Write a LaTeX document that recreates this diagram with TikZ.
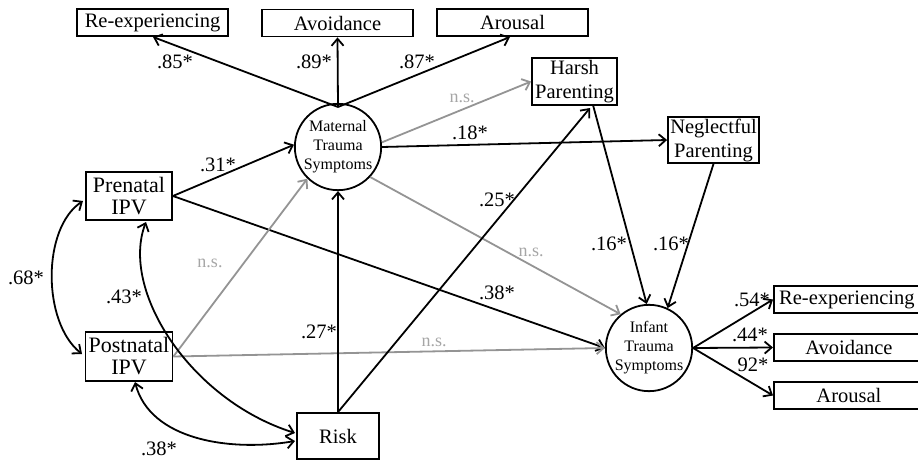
\documentclass[tikz,border=0pt]{standalone}
\usepackage{fontspec}
\setmainfont{Liberation Serif}
\usetikzlibrary{arrows.meta}
\begin{document}
\begin{tikzpicture}[x=1pt,y=-1pt,
  box/.style={draw,line width=1.8pt,inner sep=0pt,align=center,font=\fontsize{20.5}{22}\selectfont},
  circ/.style={draw,circle,line width=1.8pt,inner sep=0pt,minimum size=80pt,align=center,font=\fontsize{16}{19}\selectfont},
  arr/.style={line width=1.8pt,-{Straight Barb[length=7pt,width=12pt,line width=1.8pt]}},
  darr/.style={line width=1.8pt,{Straight Barb[length=7pt,width=12pt,line width=1.8pt]}-{Straight Barb[length=7pt,width=12pt,line width=1.8pt]}},
  garr/.style={arr,draw=black!42},
  lab/.style={font=\fontsize{20.5}{22}\selectfont,inner sep=0pt},
  glab/.style={font=\fontsize{18}{20}\selectfont,inner sep=0pt,text=black!35}]
\useasboundingbox (0,0) rectangle (918,460);
\begin{scope}
\clip (0,0) rectangle (918,460);
% top indicators
\node[box,minimum width=151pt,minimum height=27pt] (reT) at (152.5,22.5) {Re-experiencing};
\node[box,minimum width=151pt,minimum height=27pt] (avT) at (337.5,23) {Avoidance};
\node[box,minimum width=151pt,minimum height=27pt] (arT) at (512.5,22.5) {Arousal};
% parenting
\node[box,minimum width=85pt,minimum height=47pt,font=\fontsize{20.5}{24}\selectfont] (harsh) at (574.5,81.5) {Harsh\\Parenting};
\node[box,minimum width=91pt,minimum height=46pt,font=\fontsize{20.5}{24}\selectfont] (negl) at (713.5,140) {Neglectful\\Parenting};
% exogenous
\node[box,minimum width=86pt,minimum height=48pt,font=\fontsize{22}{22}\selectfont] (pre) at (129,196) {Prenatal\\IPV};
\node[box,minimum width=87pt,minimum height=49pt,font=\fontsize{22}{22}\selectfont] (post) at (129,356.5) {Postnatal\\IPV};
\node[box,minimum width=82pt,minimum height=46pt] (risk) at (338,436) {Risk};
% latent
\node[circ] (mat) at (338,147) {Maternal\\Trauma\\Symptoms};
\node[circ,minimum size=82pt] (inf) at (649,348) {Infant\\Trauma\\Symptoms};
% right indicators
\node[box,minimum width=150pt,minimum height=27pt,anchor=west] (reR) at (773,299.5) {\hspace*{-4pt}Re-experiencing};
\node[box,minimum width=150pt,minimum height=27pt,anchor=west] (avR) at (773,347.5) {Avoidance};
\node[box,minimum width=150pt,minimum height=27pt,anchor=west] (arR) at (773,395.5) {Arousal};
\end{scope}
% coordinates
\coordinate (mtop) at (338,107);
\coordinate (reTin) at (153,37);
\coordinate (arTin) at (510,37);
\coordinate (harshin) at (590,108);
\coordinate (harshout) at (593,105);
% maternal indicators
\draw[arr] (mtop) -- (reTin);
\draw[arr] (mtop) -- (avT.south);
\draw[arr] (mtop) -- (arTin);
% maternal to parenting
\draw[garr] (mat.6) -- (harsh.west);
\draw[arr] (mat.east) -- (negl.west);
% maternal to infant
\draw[garr] (mat.-43) -- (inf.130);
% exogenous paths
\draw[arr] (pre.east) -- (mat.177);
\draw[arr] (pre.east) -- (inf.west);
\draw[garr] (post.east) -- (mat.226);
\draw[garr] (post.east) -- (inf.west);
\draw[arr] (risk.north) -- (mat.south);
\draw[arr] (risk.north) -- (harshin);
% parenting to infant
\draw[arr] (harshout) -- (inf.93);
\draw[arr] (negl.south) -- (inf.65);
% infant indicators
\draw[arr] (inf.east) -- (reR.west);
\draw[arr] (inf.east) -- (avR.west);
\draw[arr] (inf.east) -- (arR.west);
% correlations
\draw[darr] (83,201) .. controls (42,228) and (42,322) .. (82,354);
\draw[darr] (146,222) .. controls (120,290) and (190,400) .. (295,433);
\draw[darr] (135,382) .. controls (150,440) and (230,452) .. (295,441);
% labels
\node[lab] (l85) at (175,62) {.85*};
\node[lab] (l89) at (314,62) {.89*};
\node[lab] (l87) at (417,62) {.87*};
\node[glab] (ns1) at (462,98) {n.s.};
\node[lab] (l18) at (470,133) {.18*};
\node[lab] (l31) at (218,165) {.31*};
\node[lab] (l25) at (497,200) {.25*};
\node[glab] (ns2) at (531,252) {n.s.};
\node[lab] (l16a) at (609,244) {.16*};
\node[lab] (l16b) at (671,244) {.16*};
\node[lab] (l38a) at (497,293) {.38*};
\node[lab] (l68) at (26,278) {.68*};
\node[lab] (l43) at (124,297) {.43*};
\node[glab] (ns3) at (210,263) {n.s.};
\node[lab] (l27) at (319,332) {.27*};
\node[glab] (ns4) at (434,342) {n.s.};
\node[lab] (l38b) at (159,449) {.38*};
\node[lab] (l54) at (752,300) {.54*};
\node[lab] (l44) at (750,335) {.44*};
\node[lab] (l92) at (753,365) {92*};
\end{tikzpicture}
\end{document}
